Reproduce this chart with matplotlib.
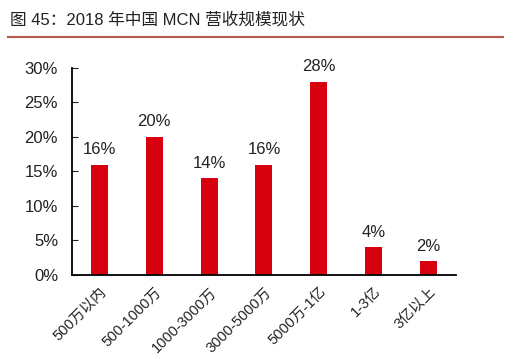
import matplotlib
matplotlib.use("Agg")
import matplotlib.pyplot as plt
from matplotlib.ticker import PercentFormatter

plt.rcParams['font.family'] = ['Liberation Sans', 'Noto Sans CJK SC', 'DejaVu Sans']

# data
categories = ['500万以内', '500-1000万', '1000-3000万', '3000-5000万', '5000万-1亿', '1-3亿', '3亿以上']
shares = [16, 20, 14, 16, 28, 4, 2]
title = '图 45：2018 年中国 MCN 营收规模现状'

fig = plt.figure(figsize=(5.14, 3.59), dpi=100)
ax = fig.add_axes([0.140, 0.234, 0.747, 0.577])

x = range(len(categories))
ax.bar(x, shares, width=0.31, color='#d7000f')
for i, v in zip(x, shares):
    ax.text(i, v + 1.1, f'{v}%', ha='center', va='bottom', fontsize=12, color='#222222')

ax.set_xlim(-0.5, len(categories) - 0.5)
ax.set_ylim(0, 30)
ax.set_yticks(range(0, 31, 5))
ax.yaxis.set_major_formatter(PercentFormatter(decimals=0))
ax.set_xticks(list(x))
ax.set_xticklabels(categories, rotation=45, ha='right', rotation_mode='anchor', fontsize=10.5)
ax.tick_params(axis='y', direction='in', length=4, labelsize=12, pad=10, colors='#222222')
ax.tick_params(axis='x', length=0, pad=7, colors='#222222')
for s in ['top', 'right']:
    ax.spines[s].set_visible(False)
for s in ['left', 'bottom']:
    ax.spines[s].set_linewidth(1.3)

fig.text(0.02, 0.945, title, fontsize=12, color='#222222', va='center')
fig.add_artist(plt.Line2D([0.016, 0.979], [0.897, 0.897], transform=fig.transFigure,
                          color='#b5584f', linewidth=1.5))

fig.savefig('out.png', dpi=100)
